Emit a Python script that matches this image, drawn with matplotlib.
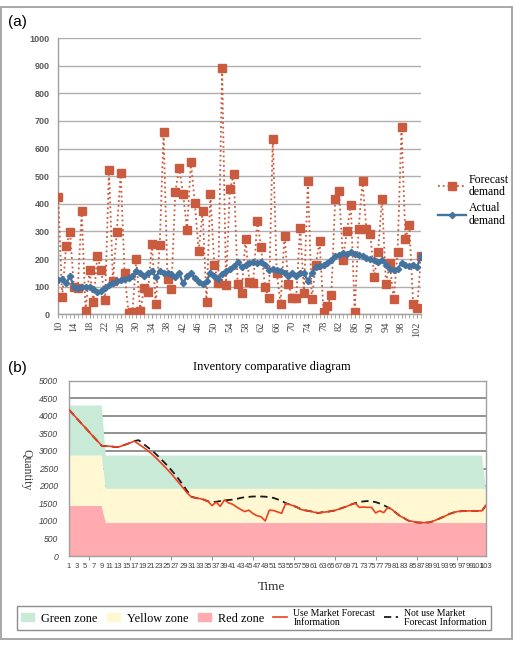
import matplotlib
matplotlib.use('Agg')
import matplotlib.pyplot as plt
from matplotlib.patches import Patch, Rectangle
from matplotlib.lines import Line2D

# ---- panel (a): forecast vs actual demand ----
periods_a = list(range(10, 104))
forecast_demand = [423, 61, 248, 298, 100, 95, 374, 13, 160, 46,
                   210, 160, 52, 524, 122, 298, 513, 148, 4, 10,
                   199, 12, 94, 82, 253, 37, 250, 660, 126, 90,
                   443, 530, 437, 306, 550, 404, 228, 373, 45, 434,
                   180, 112, 893, 106, 452, 507, 108, 78, 272, 118,
                   115, 337, 242, 97, 58, 636, 150, 38, 285, 110,
                   58, 58, 314, 78, 483, 54, 178, 265, 9, 30,
                   70, 417, 445, 198, 302, 397, 9, 308, 483, 310,
                   290, 136, 226, 419, 110, 184, 54, 226, 678, 274,
                   322, 37, 22, 210]
actual_demand = [125, 128, 112, 138, 100, 95, 100, 98, 100, 92,
                 80, 85, 95, 105, 112, 120, 125, 128, 132, 140,
                 158, 148, 140, 150, 155, 135, 155, 150, 148, 145,
                 135, 148, 112, 140, 148, 130, 118, 110, 120, 150,
                 140, 128, 145, 155, 165, 175, 190, 170, 178, 185,
                 188, 185, 190, 180, 160, 165, 160, 155, 150, 140,
                 150, 140, 150, 150, 120, 150, 170, 175, 180, 185,
                 195, 210, 215, 222, 220, 225, 220, 215, 210, 205,
                 200, 195, 190, 195, 180, 165, 160, 165, 185, 180,
                 175, 180, 172, 210]
x_labels_a = list(range(10, 103, 4))

# ---- panel (b): inventory comparison ----
periods_b = list(range(1, 104))
red_zone = [1430] * 9 + [950] * 94
yellow_zone = [2870] * 9 + [1920] * 94
green_zone = [4300] * 9 + [2870] * 93 + [1920]
use_forecast = [4180, 4050, 3920, 3790, 3665, 3535, 3405, 3280, 3150, 3140,
                3135, 3120, 3110, 3150, 3190, 3235, 3280, 3200, 3120, 3035,
                2940, 2835, 2720, 2600, 2480, 2350, 2215, 2075, 1930, 1790,
                1680, 1660, 1640, 1610, 1560, 1440, 1540, 1420, 1600, 1520,
                1480, 1400, 1330, 1270, 1310, 1210, 1150, 1120, 1000, 1310,
                1300, 1260, 1220, 1500, 1470, 1430, 1380, 1320, 1300, 1280,
                1250, 1230, 1250, 1260, 1280, 1300, 1340, 1380, 1420, 1470,
                1510, 1390, 1400, 1390, 1390, 1230, 1290, 1240, 1390, 1330,
                1230, 1140, 1080, 1010, 990, 960, 955, 955, 960, 990,
                1040, 1090, 1140, 1200, 1240, 1270, 1280, 1285, 1290, 1290,
                1290, 1290, 1450]
no_forecast = [4180, 4050, 3920, 3790, 3665, 3535, 3405, 3280, 3150, 3140,
               3135, 3120, 3110, 3150, 3190, 3235, 3285, 3310, 3220, 3130,
               3040, 2940, 2830, 2710, 2590, 2460, 2320, 2170, 2010, 1840,
               1690, 1660, 1640, 1610, 1560, 1540, 1550, 1570, 1590, 1600,
               1610, 1630, 1660, 1680, 1690, 1700, 1700, 1700, 1695, 1680,
               1660, 1620, 1580, 1510, 1470, 1430, 1380, 1320, 1300, 1280,
               1250, 1230, 1250, 1260, 1280, 1300, 1340, 1380, 1420, 1470,
               1510, 1540, 1560, 1570, 1560, 1540, 1500, 1450, 1390, 1330,
               1230, 1140, 1080, 1010, 990, 960, 955, 955, 960, 990,
               1040, 1090, 1140, 1200, 1240, 1270, 1280, 1285, 1290, 1290,
               1290, 1290, 1450]

W, H = 515, 649
fig = plt.figure(figsize=(W / 100, H / 100), dpi=100)
SERIF = ['Liberation Serif', 'DejaVu Serif']
SANS = ['Liberation Sans', 'DejaVu Sans']
ORANGE = '#CB5B3E'
BLUE = '#44739F'

def box(l, t, r, b):
    return [l / W, 1 - b / H, (r - l) / W, (b - t) / H]

# outer frame
fig.patches.append(Rectangle((1 / W, 1 - 639 / H), 510.5 / W, 632 / H,
                             transform=fig.transFigure, fill=False,
                             edgecolor='#A0A0A0', lw=1.3))

# ---------- (a) ----------
ax1 = fig.add_axes(box(58.3, 38, 421, 314.3))
ax1.plot(periods_a, forecast_demand, ls=':', lw=1.3, color=ORANGE,
         marker='s', ms=5.5, mfc=ORANGE, mec=ORANGE, zorder=3)
ax1.plot(periods_a, actual_demand, '-', lw=1.7, color=BLUE,
         marker='D', ms=3.2, mfc=BLUE, mec=BLUE, zorder=4)
ax1.set_xlim(10, 103)
ax1.set_ylim(0, 1000)
ax1.set_yticks(range(0, 1001, 100))
ax1.set_xticks(x_labels_a)
ax1.set_xticks(periods_a, minor=True)
ax1.set_xticklabels([str(v) for v in x_labels_a], rotation=90,
                    family=SERIF, fontsize=7.5, color='#404040')
for t in ax1.get_yticklabels():
    t.set_family(SANS)
    t.set_fontsize(6.5)
    t.set_fontweight('bold')
    t.set_color('#595959')
ax1.tick_params(axis='y', length=0, pad=6)
ax1.tick_params(axis='x', which='both', length=3, color='#A0A0A0', pad=2)
ax1.grid(axis='y', color='#B0B0B0', lw=1)
ax1.set_axisbelow(True)
for s in ['top', 'right']:
    ax1.spines[s].set_visible(False)
for s in ['left', 'bottom']:
    ax1.spines[s].set_color('#A0A0A0')
    ax1.spines[s].set_linewidth(1)

h_fc = Line2D([], [], ls=':', lw=1.3, color=ORANGE, marker='s', ms=5.5)
h_ac = Line2D([], [], ls='-', lw=1.7, color=BLUE, marker='D', ms=3.2)
leg_a = fig.legend([h_fc, h_ac], ['Forecast\ndemand', 'Actual\ndemand'],
                   loc='upper left', bbox_to_anchor=(432 / W, 1 - 168 / H),
                   frameon=False, prop={'family': SERIF, 'size': 8.5},
                   handlelength=2.4, handletextpad=0.2, labelspacing=0.35,
                   borderpad=0)
for t in leg_a.get_texts():
    t.set_linespacing(1.05)

fig.text(8 / W, 1 - 22 / H, '(a)', family=SANS, fontsize=11, va='center')
fig.text(8 / W, 1 - 368 / H, '(b)', family=SANS, fontsize=11, va='center')

# ---------- (b) ----------
ax2 = fig.add_axes(box(69, 381, 486, 556))
ax2.set_xlim(1, 103)
ax2.set_ylim(0, 5000)
ax2.set_yticks(range(0, 5001, 500))
ax2.grid(axis='y', color='#7F7F7F', lw=1.2, zorder=0)
ax2.set_axisbelow(True)
yel_w = [y - r for y, r in zip(yellow_zone, red_zone)]
grn_w = [g - y for g, y in zip(green_zone, yellow_zone)]
ax2.stackplot(periods_b, red_zone, yel_w, grn_w,
              colors=['#FFABB0', '#FFF8D2', '#C9EAD7'], lw=0, zorder=1)
ax2.plot(periods_b, use_forecast, '-', color='#F0401E', lw=1.2, zorder=3)
ax2.plot(periods_b, no_forecast, '--', color='#1A1A1A', lw=1.3,
         dashes=(4, 2.5), zorder=2)
ax2.set_xticks(list(range(1, 104, 2)))
ax2.set_xticklabels([str(v) for v in range(1, 104, 2)], family=SANS,
                    fontsize=5.5, color='#404040')
ax2.set_xticks(list(range(1, 104, 5)), minor=True)
ax2.tick_params(axis='x', which='major', length=0, pad=5)
ax2.tick_params(axis='x', which='minor', length=3, color='#808080')
ax2.tick_params(axis='y', length=0, pad=8)
for t in ax2.get_yticklabels():
    t.set_family(SANS)
    t.set_fontsize(6.2)
    t.set_style('italic')
    t.set_color('#404040')
for s in ax2.spines.values():
    s.set_color('#A0A0A0')
    s.set_linewidth(1)

fig.text(272 / W, 1 - 367 / H, 'Inventory comparative diagram',
         family=SERIF, fontsize=9, ha='center', va='center')
fig.text(26 / W, 1 - 470 / H, 'Quantity', family=SERIF, fontsize=8.5,
         rotation=270, ha='center', va='center', color='#404040')
fig.text(272 / W, 1 - 587 / H, 'Time', family=SERIF, fontsize=9.5,
         ha='center', va='center', color='#303030')

handles = [Patch(color='#C9EAD7'), Patch(color='#FFF8D2'),
           Patch(color='#FFABB0'),
           Line2D([], [], color='#F0401E', lw=1.2),
           Line2D([], [], color='#1A1A1A', lw=1.3, ls='--', dashes=(4, 2.5))]
labels = ['Green zone', 'Yellow zone', 'Red zone',
          'Use Market Forecast\nInformation',
          'Not use Market\nForecast Information']
leg = fig.legend(handles, labels, loc='center',
                 bbox_to_anchor=(254 / W, 1 - 618 / H), ncol=5,
                 prop={'family': SERIF, 'size': 8.8}, fancybox=False,
                 edgecolor='#707070', handlelength=1.1, handleheight=0.6,
                 handletextpad=0.55, columnspacing=0.75, borderpad=0.3,
                 labelspacing=0.1)
leg.get_frame().set_linewidth(1)
for t in leg.get_texts()[3:]:
    t.set_fontsize(7)
    t.set_linespacing(0.95)

fig.savefig('out.png', dpi=100)
